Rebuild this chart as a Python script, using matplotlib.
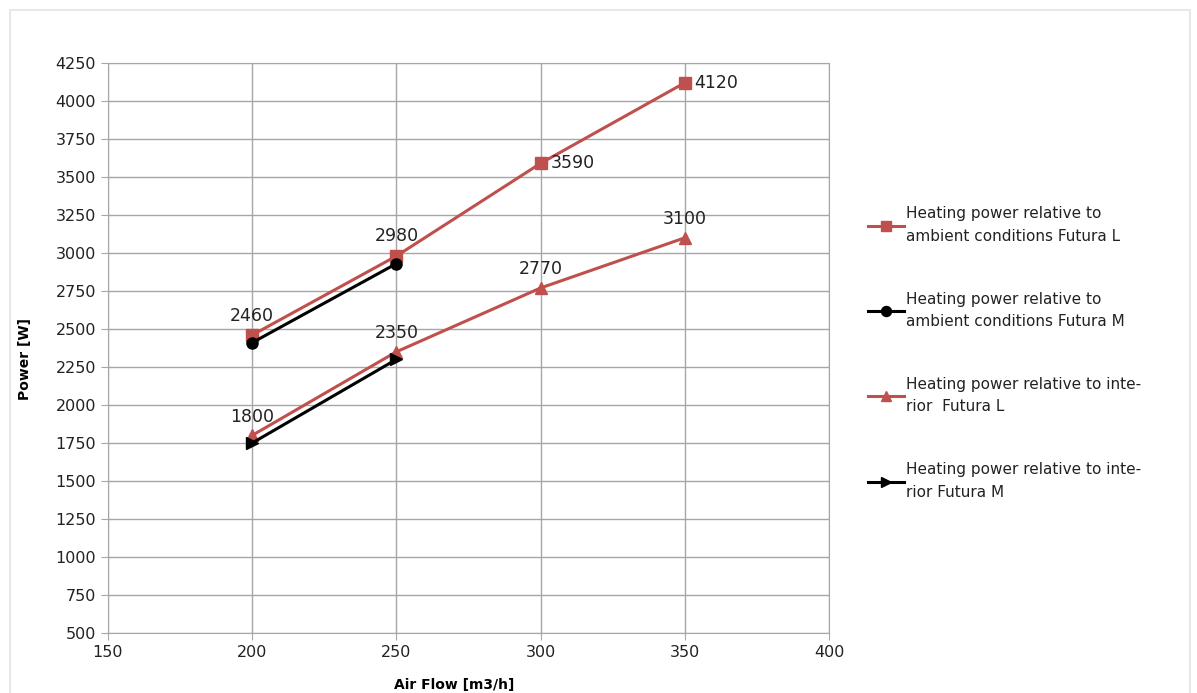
import matplotlib.pyplot as plt
from matplotlib.patches import Rectangle

# Data
air_flow_l = [200, 250, 300, 350]
air_flow_m = [200, 250]
ambient_l = [2460, 2980, 3590, 4120]
ambient_m = [2410, 2930]
interior_l = [1800, 2350, 2770, 3100]
interior_m = [1750, 2300]

labels = [
    "Heating power relative to\nambient conditions Futura L",
    "Heating power relative to\nambient conditions Futura M",
    "Heating power relative to inte-\nrior  Futura L",
    "Heating power relative to inte-\nrior Futura M",
]

red = "#c0504d"
grid_col = "#a6a6a6"

fig = plt.figure(figsize=(11.97, 6.93), dpi=100)
fig.patches.append(Rectangle((0.008, -0.01), 0.986, 0.995, transform=fig.transFigure,
                             fill=False, edgecolor="#e4e4e4", linewidth=1.2))
ax = fig.add_axes([0.0902, 0.0866, 0.6024, 0.8225])

l1, = ax.plot(air_flow_l, ambient_l, color=red, marker="s", markersize=8, linewidth=2.2)
l2, = ax.plot(air_flow_m, ambient_m, color="black", marker="o", markersize=8, linewidth=2.2)
l3, = ax.plot(air_flow_l, interior_l, color=red, marker="^", markersize=8, linewidth=2.2)
l4, = ax.plot(air_flow_m, interior_m, color="black", marker=">", markersize=8, linewidth=2.2)

# Data labels for the Futura L series
label_offsets_ambient = [(0, 7, "center"), (0, 8, "center"), (7, 0, "left"), (7, 0, "left")]
for x, y, (dx, dy, ha) in zip(air_flow_l, ambient_l, label_offsets_ambient):
    va = "bottom" if dy > 0 else "center"
    ax.annotate(str(y), (x, y), xytext=(dx, dy), textcoords="offset points",
                ha=ha, va=va, fontsize=12.5, color="#222222")
for x, y in zip(air_flow_l, interior_l):
    ax.annotate(str(y), (x, y), xytext=(0, 7), textcoords="offset points",
                ha="center", va="bottom", fontsize=12.5, color="#222222")

ax.set_xlim(150, 400)
ax.set_ylim(500, 4250)
ax.set_xticks(range(150, 401, 50))
ax.set_yticks(range(500, 4251, 250))
ax.grid(True, color=grid_col, linewidth=1)
ax.set_axisbelow(True)
for s in ax.spines.values():
    s.set_color(grid_col)
ax.tick_params(colors=grid_col, labelcolor="#222222", labelsize=11.5, length=5)

ax.set_xlabel("Air Flow [m3/h]", fontsize=10, fontweight="bold")
ax.set_ylabel("Power [W]", fontsize=10, fontweight="bold")
ax.xaxis.set_label_coords(0.48, -0.079)
ax.yaxis.set_label_coords(-0.106, 0.48)

leg = fig.legend([l1, l2, l3, l4], labels, loc="upper left", bbox_to_anchor=(0.714, 0.722),
                 frameon=False, fontsize=11, labelspacing=3.15, handlelength=2.3,
                 handletextpad=0.15, markerscale=0.9)
for t in leg.get_texts():
    t.set_linespacing(1.6)
    t.set_color("#222222")

fig.savefig("out.png", dpi=100)
